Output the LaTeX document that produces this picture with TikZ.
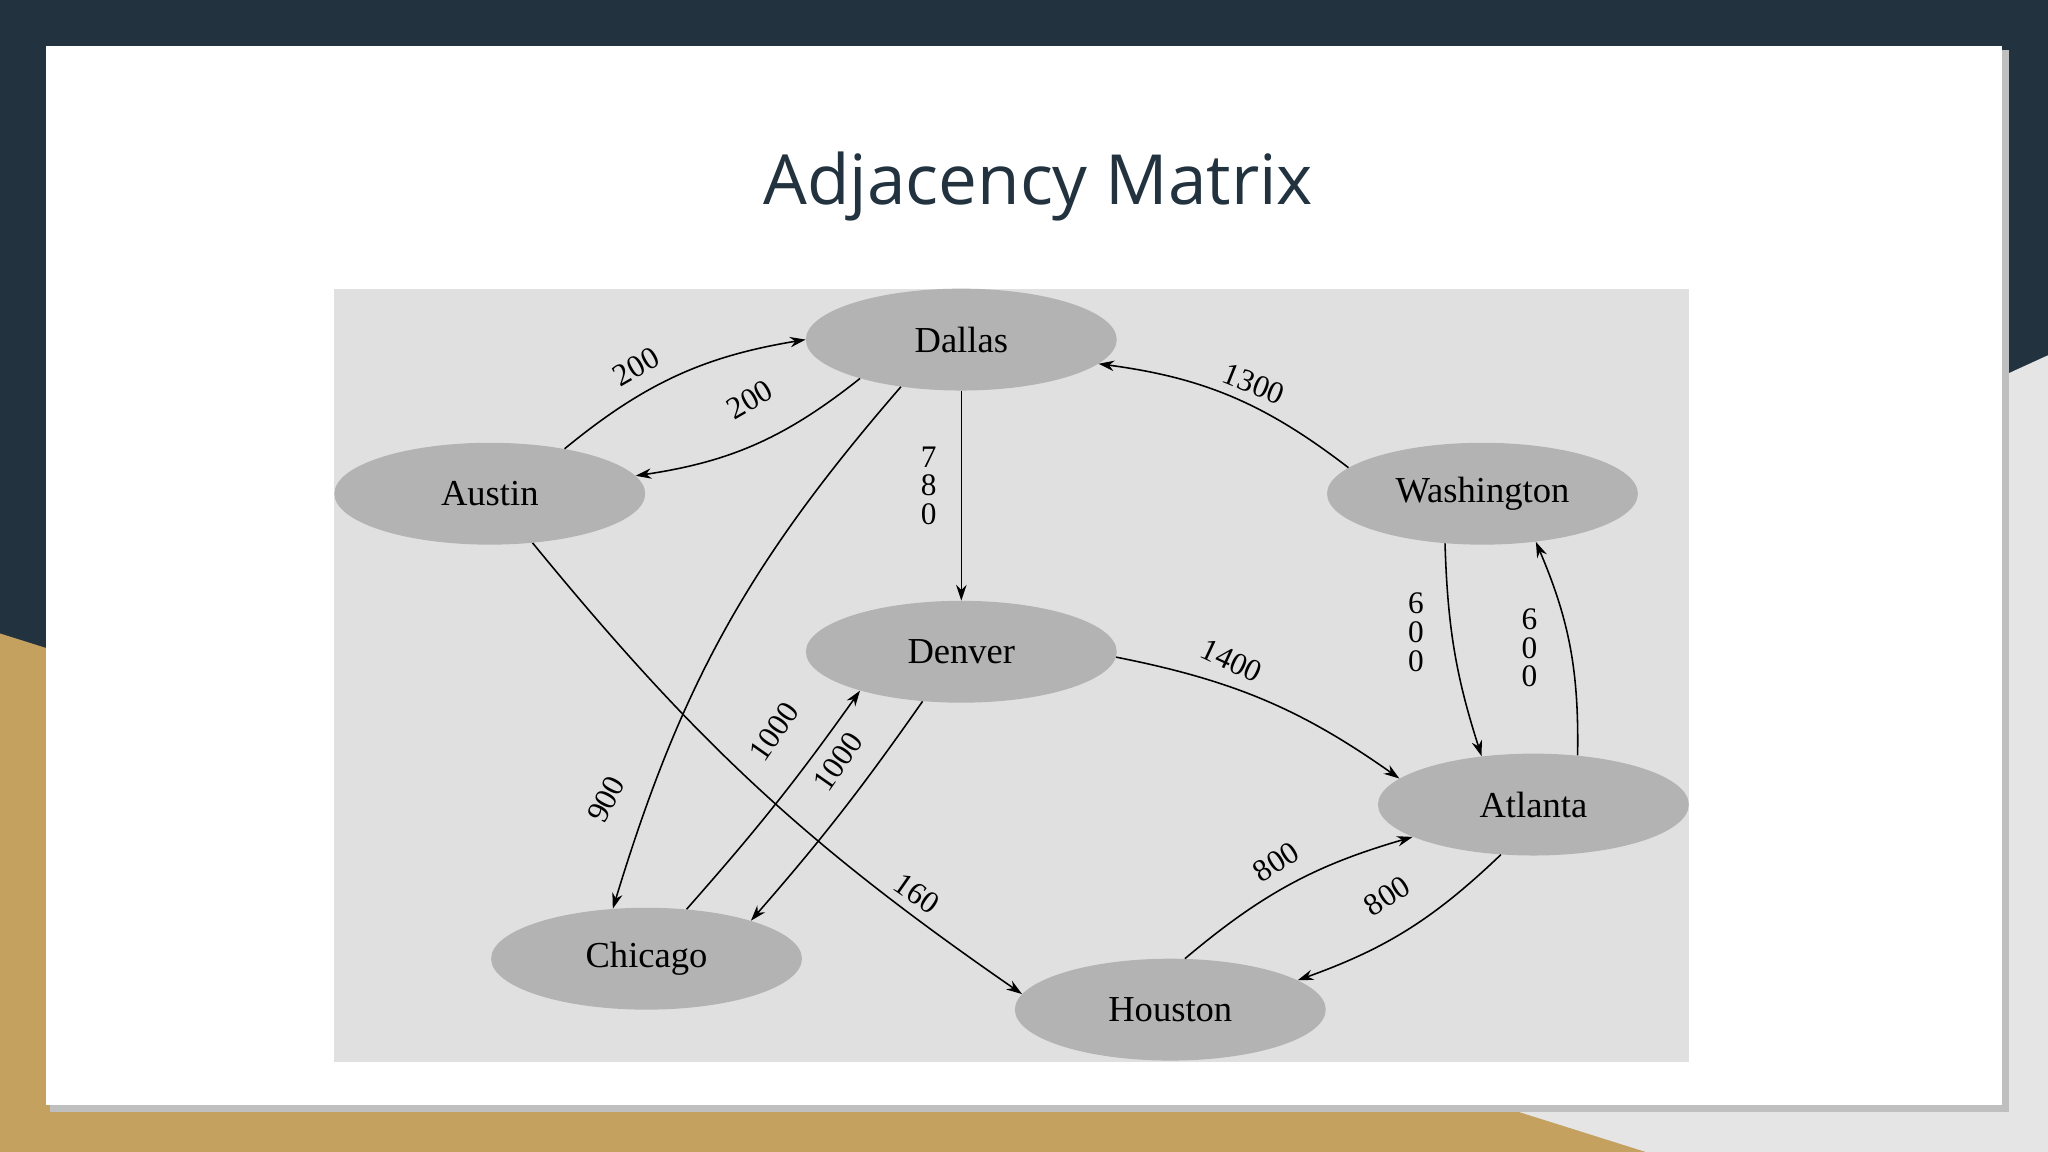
\documentclass[tikz,border=0pt]{standalone}
\usepackage{fontspec}
\setmainfont{Liberation Serif}
\newfontfamily\titlefont{Open Sans}
\usetikzlibrary{arrows.meta,shapes.geometric}
\definecolor{navy}{HTML}{22333F}
\definecolor{gold}{HTML}{C4A15E}
\definecolor{panel}{HTML}{E0E0E0}
\definecolor{nodefill}{HTML}{B3B3B3}
\tikzset{
  city/.style={ellipse, fill=nodefill, minimum width=238pt, minimum height=78pt, inner sep=0pt, font=\fontsize{28}{30}\selectfont},
  edge/.style={-{Stealth[length=12pt,width=8pt]}, line width=1.2pt, black},
  wlab/.style={font=\fontsize{24}{26}\selectfont, inner sep=0pt},
}
\begin{document}
\begin{tikzpicture}[x=1pt,y=-1pt]
\useasboundingbox (0,0) rectangle (1568,882);
\fill[navy] (0,0) rectangle (1568,882);
\fill[gray!20] (1533,288) -- (1568,272) -- (1568,882) -- (1100,882) -- (1100,846) -- cycle;
\fill[gold] (0,485) -- (1260,882) -- (0,882) -- cycle;
\fill[black!25] (38,38) rectangle (1538,851);
\fill[white] (35,35) rectangle (1533,846);
\node[font=\titlefont\fontsize{53}{58}\selectfont, text=navy] (title) at (795,143) {Adjacency Matrix};
\fill[panel] (256,221) rectangle (1293,813);
\node[city] (dal) at (736,260) {Dallas};
\node[city] (aus) at (375,378) {Austin};
\node[city] (was) at (1135,378) {Washington};
\node[city] (den) at (736,499) {Denver};
\node[city] (atl) at (1174,616) {Atlanta};
\node[city] (chi) at (495,734) {Chicago};
\node[city] (hou) at (896,773) {Houston};
\draw[edge] (aus.31) to[bend left=15] (dal.180);
\draw[edge] (dal.201) to[bend left=15] (aus.7);
\draw[edge] (dal.south) -- (den.north);
\draw[edge] (was.169) to[bend right=15] (dal.350);
\draw[edge] (was.233) to[bend right=8] (atl.137);
\draw[edge] (atl.48) to[bend right=12] (was.318);
\draw[edge] (den.358) to[bend left=12] (atl.169);
\draw[edge] (dal.218) to[bend right=12] (chi.124);
\draw[edge] (aus.311) to[bend right=8] (hou.174);
\draw[edge] (chi.51) to[bend right=3] (den.201);
\draw[edge] (den.232) to[bend left=3] (chi.20);
\draw[edge] (hou.74) to[bend left=12] (atl.195);
\draw[edge] (atl.237) to[bend left=12] (hou.13);
\node[wlab, rotate=30] (l1) at (487,281) {200};
\node[wlab, rotate=30] (l2) at (574,306) {200};
\node[wlab, align=center] (l3) at (711,372) {7\\[-4pt]8\\[-4pt]0};
\node[wlab, rotate=-22] (l4) at (960,294) {1300};
\node[wlab, align=center] (l5) at (1084,484) {6\\[-4pt]0\\[-4pt]0};
\node[wlab, align=center] (l6) at (1171,496) {6\\[-4pt]0\\[-4pt]0};
\node[wlab, rotate=-25] (l7) at (943,506) {1400};
\node[wlab, rotate=62] (l8) at (464,612) {900};
\node[wlab, rotate=-35] (l9) at (702,684) {160};
\node[wlab, rotate=55] (l10) at (593,560) {1000};
\node[wlab, rotate=55] (l11) at (642,583) {1000};
\node[wlab, rotate=33] (l12) at (977,660) {800};
\node[wlab, rotate=33] (l13) at (1062,686) {800};
\end{tikzpicture}
\end{document}
